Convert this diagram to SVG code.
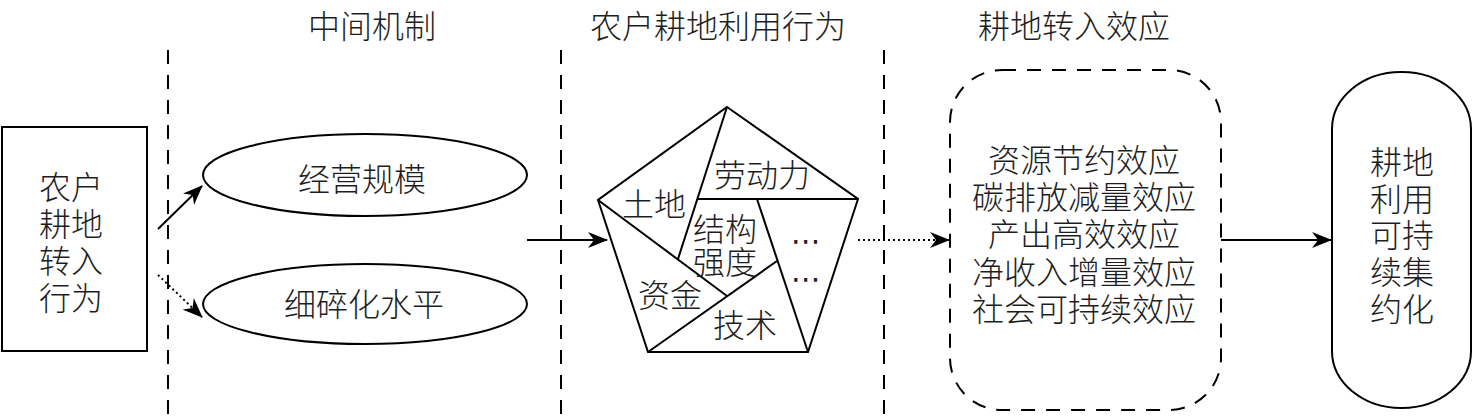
<svg xmlns="http://www.w3.org/2000/svg" width="1478" height="420" viewBox="0 0 1478 420">
  <style>
    .ln { stroke: #000; stroke-width: 2; fill: none; }
    .box { stroke: #000; stroke-width: 2; fill: #fff; }
    .dash { stroke-dasharray: 14 11; }
    .dot { stroke-dasharray: 2 3; }
    .t { font-family: "Noto Sans CJK SC", "Noto Sans CJK JP", sans-serif; font-size: 32px; font-weight: 300; fill: #1e1e1e; text-anchor: middle; dominant-baseline: central; }
    .dots { font-family: "DejaVu Sans", sans-serif; font-size: 30px; fill: #1e1e1e; text-anchor: middle; dominant-baseline: central; }
  </style>
  <defs>
    <marker id="arr" markerUnits="userSpaceOnUse" markerWidth="20" markerHeight="16" viewBox="0 0 20 16" refX="19" refY="8" orient="auto">
      <path d="M0,0 L20,8 L0,16 L6,8 Z" fill="#000"/>
    </marker>
  </defs>
  <rect width="1478" height="420" fill="#fff"/>

  <g id="titles">
    <text class="t" x="372" y="24">中间机制</text>
    <text class="t" x="718" y="24">农户耕地利用行为</text>
    <text class="t" x="1074" y="24">耕地转入效应</text>
  </g>

  <g id="separators">
    <line class="ln dash" x1="168" y1="50" x2="168" y2="415"/>
    <line class="ln dash" x1="561" y1="50" x2="561" y2="415"/>
    <line class="ln dash" x1="884" y1="50" x2="884" y2="415"/>
  </g>

  <g id="node-input">
    <rect class="box" x="2" y="127" width="145" height="224"/>
    <text class="t" x="71"><tspan x="71" y="185">农户</tspan><tspan x="71" y="222">耕地</tspan><tspan x="71" y="259">转入</tspan><tspan x="71" y="296">行为</tspan></text>
  </g>

  <g id="node-scale">
    <ellipse class="box" cx="365" cy="175" rx="162" ry="41"/>
    <text class="t" x="362" y="177">经营规模</text>
  </g>

  <g id="node-fragment">
    <ellipse class="box" cx="365" cy="304" rx="162" ry="40"/>
    <text class="t" x="364" y="302">细碎化水平</text>
  </g>

  <g id="node-pentagon">
    <polygon class="ln" points="727,107 858,199 808,352 648,352 598,200"/>
    <line class="ln" x1="727" y1="107" x2="678" y2="259"/>
    <line class="ln" x1="858" y1="199" x2="697" y2="199"/>
    <line class="ln" x1="808" y1="352" x2="757" y2="199"/>
    <line class="ln" x1="648" y1="352" x2="777" y2="261"/>
    <line class="ln" x1="598" y1="200" x2="727" y2="296"/>
    <text class="t" x="762" y="173">劳动力</text>
    <text class="t" x="654" y="202">土地</text>
    <text class="t" x="725" y="227">结构</text>
    <text class="t" x="725" y="260">强度</text>
    <text class="t" x="670" y="293">资金</text>
    <text class="t" x="745" y="323">技术</text>
    <text class="dots" x="806" y="240">⋯</text>
    <text class="dots" x="806" y="278">⋯</text>
  </g>

  <g id="node-effects">
    <rect class="ln dash" x="950" y="70" width="271" height="340" rx="52" ry="52"/>
    <text class="t" x="1085"><tspan x="1084" y="158">资源节约效应</tspan><tspan x="1084" y="195">碳排放减量效应</tspan><tspan x="1084" y="232">产出高效效应</tspan><tspan x="1084" y="270">净收入增量效应</tspan><tspan x="1084" y="307">社会可持续效应</tspan></text>
  </g>

  <g id="node-goal">
    <rect class="box" x="1332" y="72" width="139" height="336" rx="69" ry="57"/>
    <text class="t" x="1402"><tspan x="1402" y="160">耕地</tspan><tspan x="1402" y="197">利用</tspan><tspan x="1402" y="233">可持</tspan><tspan x="1402" y="270">续集</tspan><tspan x="1402" y="307">约化</tspan></text>
  </g>

  <g id="connectors">
    <line class="ln" x1="158" y1="229" x2="202" y2="186" marker-end="url(#arr)"/>
    <line class="ln dot" x1="158" y1="275" x2="202" y2="317" marker-end="url(#arr)"/>
    <line class="ln" x1="527" y1="240" x2="607" y2="240" marker-end="url(#arr)"/>
    <line class="ln dot" x1="858" y1="240" x2="949" y2="240" marker-end="url(#arr)"/>
    <line class="ln" x1="1221" y1="240" x2="1331" y2="240" marker-end="url(#arr)"/>
  </g>
</svg>
